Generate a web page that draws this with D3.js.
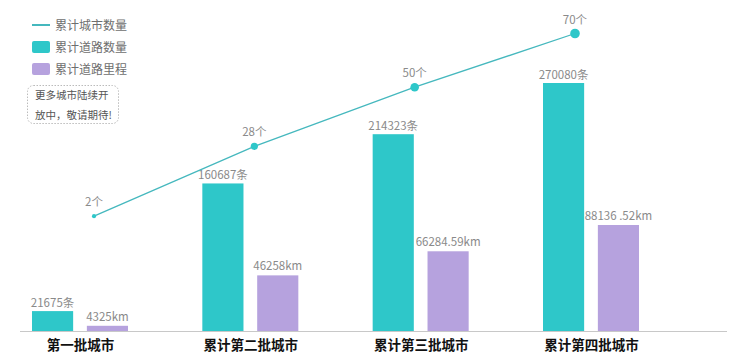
<!DOCTYPE html>
<html><head><meta charset="utf-8">
<script src="https://cdn.jsdelivr.net/npm/d3@7"></script>
<style>
html,body{margin:0;padding:0;background:#fff;}
svg{display:block;font-family:"Noto Sans CJK SC","Noto Sans",sans-serif;}
</style></head>
<body><svg id="c" width="756" height="355"></svg>
<script>
const categories = ["第一批城市","累计第二批城市","累计第三批城市","累计第四批城市"];
const roadCounts = [21675,160687,214323,270080];
const roadCountLabels = ["21675条","160687条","214323条","270080条"];
const roadLengths = [4325,46258,66284.59,88136.52];
const roadLengthLabels = ["4325km","46258km","66284.59km","88136 .52km"];
const cityCounts = [2,28,50,70];
const cityCountLabels = ["2个","28个","50个","70个"];
const seriesNames = ["累计城市数量","累计道路数量","累计道路里程"];
const noteLines = ["更多城市陆续开","放中，敬请期待!"];

const teal = "#2ec7c9", purple = "#b6a2de", lineColor = "#45b8be";
const svg = d3.select("#c");
const baseY = 331;

const xGroup = d3.scalePoint().domain(categories).range([80, 591]);
const xInner = d3.scaleBand().domain(["count","length"]).range([-48,48]).paddingInner(0.25);
const yCount = d3.scaleLinear().domain([0,270080]).range([baseY, 83]);
const yLen = d3.scaleLinear().domain([0,88136.52]).range([baseY, 225]);
const xLine = d3.scalePoint().domain(categories).range([94, 575]);
const yLine = d3.scaleLinear().domain([0,70]).range([221.5, 33.5]);
const rLine = d3.scaleSqrt().domain([0,70]).range([1.5,4.8]);

// axis
const xAxis = d3.axisBottom(xGroup).tickSize(0).tickPadding(9);
const ax = svg.append("g").attr("transform",`translate(0,${baseY})`).call(xAxis);
ax.select(".domain").attr("d","M20,0.5H727").attr("stroke","#c8c8c8").attr("stroke-width",1.2);
ax.selectAll(".tick text").attr("font-size",13.5).attr("font-weight","bold").attr("fill","#111")
  .attr("font-family",'"Noto Sans CJK SC",sans-serif');

// bars
const g = svg.append("g");
categories.forEach((c,i)=>{
  const x0 = xGroup(c);
  const xc = x0 + xInner("count"), xl = x0 + xInner("length"), bw = xInner.bandwidth();
  g.append("rect").attr("x",xc).attr("width",bw).attr("y",yCount(roadCounts[i])).attr("height",baseY-yCount(roadCounts[i])).attr("fill",teal);
  g.append("rect").attr("x",xl).attr("width",bw).attr("y",yLen(roadLengths[i])).attr("height",baseY-yLen(roadLengths[i])).attr("fill",purple);
  g.append("text").attr("x",xc+bw/2).attr("y",yCount(roadCounts[i])-4).attr("text-anchor","middle")
    .attr("font-size",11.5).attr("fill","#8a8a8a").text(roadCountLabels[i]);
  g.append("text").attr("x",xl+bw/2).attr("y",yLen(roadLengths[i])-5).attr("text-anchor","middle")
    .attr("font-size",11.5).attr("fill","#8a8a8a").text(roadLengthLabels[i]);
});

// line
const line = d3.line().x((d,i)=>xLine(categories[i])).y(d=>yLine(d));
svg.append("path").datum(cityCounts).attr("d",line).attr("fill","none").attr("stroke",lineColor).attr("stroke-width",1.3);
svg.selectAll(".pt").data(cityCounts).join("circle").attr("class","pt")
  .attr("cx",(d,i)=>xLine(categories[i])).attr("cy",d=>yLine(d)).attr("r",d=>rLine(d)).attr("fill",teal);
svg.selectAll(".pl").data(cityCounts).join("text").attr("class","pl")
  .attr("x",(d,i)=>xLine(categories[i])).attr("y",d=>yLine(d)-10).attr("text-anchor","middle")
  .attr("font-size",11.5).attr("fill","#8a8a8a").text((d,i)=>cityCountLabels[i]);

// legend
const lg = svg.append("g");
seriesNames.forEach((n,i)=>{
  const y = 26 + i*22;
  if(i===0){
    lg.append("line").attr("x1",32).attr("x2",50).attr("y1",y-1).attr("y2",y-1).attr("stroke",lineColor).attr("stroke-width",2);
  } else {
    lg.append("rect").attr("x",32).attr("y",y-7).attr("width",18).attr("height",12).attr("rx",2).attr("fill",i===1?teal:purple);
  }
  lg.append("text").attr("x",55).attr("y",y+4).attr("font-size",12).attr("fill","#6e6e6e").text(n);
});

// note box
svg.append("rect").attr("x",27.5).attr("y",85.5).attr("width",91).attr("height",38).attr("rx",6)
  .attr("fill","none").attr("stroke","#aaa").attr("stroke-width",0.8).attr("stroke-dasharray","1.5,1.5");
noteLines.forEach((t,i)=>{
  svg.append("text").attr("x",35).attr("y",99+i*20).attr("font-size",10.5).attr("fill","#555").text(t);
});
</script></body></html>
